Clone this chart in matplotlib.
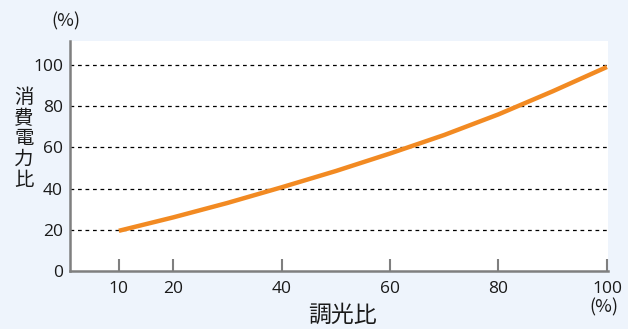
import matplotlib
matplotlib.use('Agg')
import matplotlib.pyplot as plt

plt.rcParams['font.family'] = ['Noto Sans CJK JP', 'DejaVu Sans']

# 調光比 (%) と 消費電力比 (%)
dimming = [10, 20, 30, 40, 50, 60, 70, 80, 90, 100]
power = [19.5, 26.0, 33.0, 40.6, 48.5, 57.0, 66.0, 76.0, 87.2, 99.0]
x_ticks = [10, 20, 40, 60, 80, 100]
y_ticks = [0, 20, 40, 60, 80, 100]

bg = '#eef4fc'
grey = '#7f7f7f'
txt = '#1a1a1a'

fig = plt.figure(figsize=(6.28, 3.29), dpi=100, facecolor=bg)
ax = fig.add_axes([0.1115, 0.1763, 0.8567, 0.6991])
ax.set_facecolor('white')

for y in y_ticks[1:]:
    ax.axhline(y, color='black', lw=0.9, linestyle=(0, (3, 3)), zorder=1)

ax.plot(dimming, power, color='#f28a22', lw=3.2, solid_capstyle='butt',
        solid_joinstyle='round', zorder=3)

ax.set_xlim(1, 100.2)
ax.set_ylim(0, 111.6)

for s in ['top', 'right']:
    ax.spines[s].set_visible(False)
for s in ['left', 'bottom']:
    ax.spines[s].set_color(grey)
    ax.spines[s].set_linewidth(1.8)

ax.set_xticks(x_ticks)
ax.set_yticks(y_ticks)
ax.tick_params(axis='x', direction='in', length=8.5, width=1.5, color=grey,
               pad=7, labelcolor=txt)
ax.tick_params(axis='y', length=0, pad=5, labelcolor=txt)
for lab in ax.get_xticklabels() + ax.get_yticklabels():
    lab.set_fontfamily(['Open Sans', 'DejaVu Sans'])
    lab.set_fontsize(12.5)

fig.text(0.105, 0.935, '(%)', fontsize=13, ha='center', va='center', color=txt)
fig.text(0.961, 0.066, '(%)', fontsize=13, ha='center', va='center', color=txt)
fig.text(0.038, 0.578, '消\n費\n電\n力\n比', fontsize=14, ha='center', va='center',
         linespacing=0.98, color=txt)
fig.text(0.546, 0.042, '調光比', fontsize=16.5, ha='center', va='center', color=txt)

fig.savefig('out.png', dpi=100, facecolor=bg)
